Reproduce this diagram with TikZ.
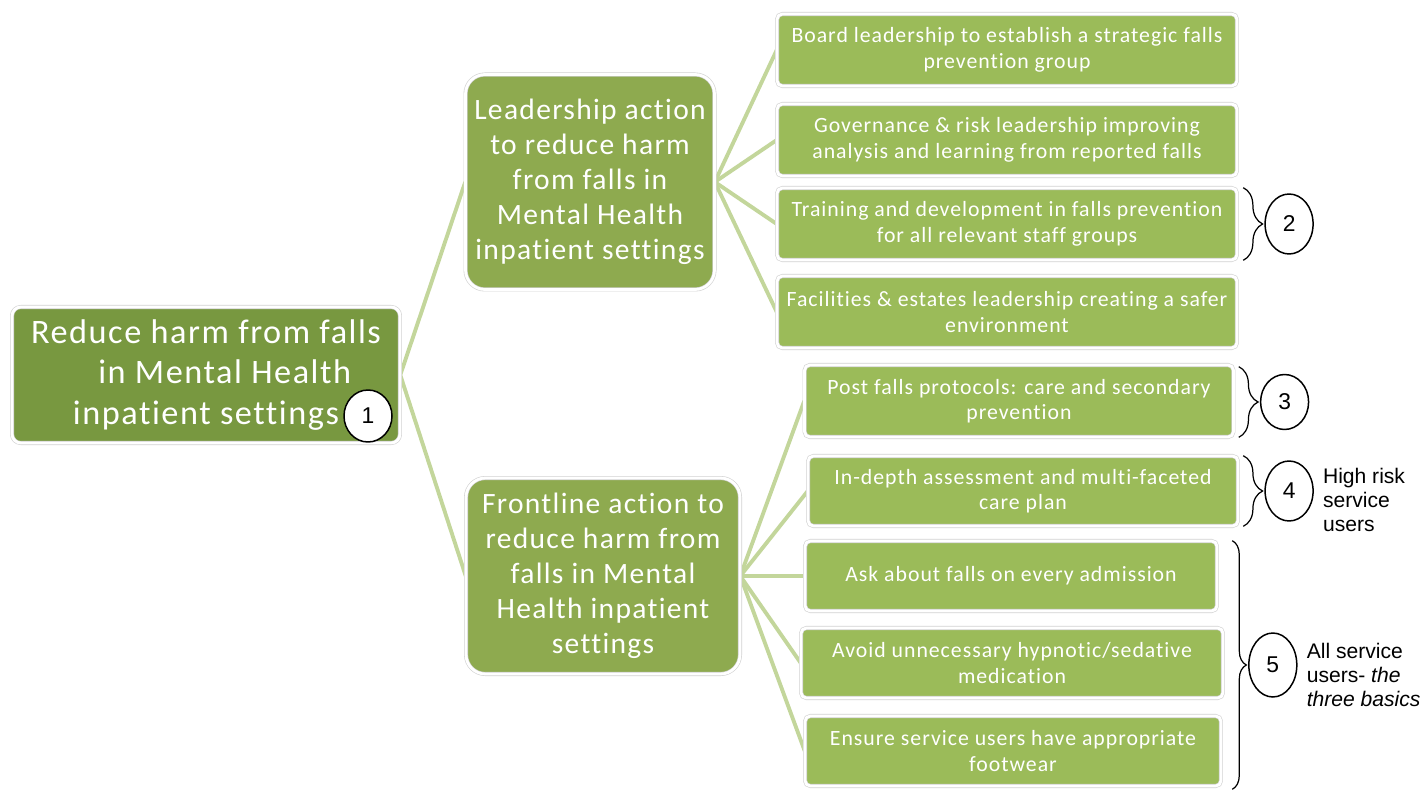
\documentclass[tikz,border=0pt]{standalone}
\usepackage{fontspec}
\setmainfont{Carlito}[LetterSpace=4.5, Ligatures=NoCommon]
\newfontfamily\arialfont{Liberation Sans}
\usetikzlibrary{positioning,shapes.geometric,decorations.pathreplacing,backgrounds}
\definecolor{rootgreen}{HTML}{789840}
\definecolor{midgreen}{HTML}{8EAA4F}
\definecolor{leafgreen}{HTML}{9BBB59}
\definecolor{linkgreen}{HTML}{C3D69B}
\tikzset{
  box/.style={draw=black!18, double=white, double distance=1.6pt, line width=.35pt,
    rounded corners=3pt, text=white, align=center, inner sep=0pt},
  rootbox/.style={box, fill=rootgreen, rounded corners=5pt, minimum width=7.76cm,
    minimum height=2.72cm, font=\fontsize{19.5}{23.3}\selectfont},
  midbox/.style={box, fill=midgreen, rounded corners=11pt, font=\fontsize{16.8}{19.9}\selectfont},
  leaf/.style={box, fill=leafgreen, minimum height=1.44cm, font=\fontsize{12.4}{14.5}\selectfont},
  link/.style={linkgreen, line width=2.2pt},
  tag/.style={ellipse, draw, fill=white, line width=.85pt, minimum width=.96cm,
    minimum height=1.2cm, inner sep=0pt, font=\arialfont\fontsize{13}{13}\selectfont},
  bracket/.style={decorate, decoration={brace, amplitude=11pt}, line width=.7pt},
  note/.style={font=\arialfont\fontsize{12}{13.6}\selectfont, align=left}
}
\begin{document}
\begin{tikzpicture}[x=0.02cm, y=-0.02cm]
\useasboundingbox (0,0) rectangle (1426,790);

\node[rootbox] (root) at (206,375) {Reduce harm from falls\\\hspace{.75cm}in Mental Health\\inpatient settings};
\node[tag, minimum height=1.04cm] (n1) at (368,416) {1};

\node[midbox, minimum width=4.98cm, minimum height=4.3cm] (lead) at (590,182)
  {Leadership action\\to reduce harm\\from falls in\\Mental Health\\inpatient settings};
\node[midbox, minimum width=5.48cm, minimum height=3.92cm] (front) at (603,576)
  {Frontline action to\\reduce harm from\\falls in Mental\\Health inpatient\\settings};

\foreach \n/\y/\t in {
    board/50/{Board leadership to establish a strategic falls\\prevention group},
    gov/140/{Governance \& risk leadership improving\\analysis and learning from reported falls},
    train/224/{Training and development in falls prevention\\for all relevant staff groups},
    fac/312/{Facilities \& estates leadership creating a safer\\environment}}
  \node[leaf, minimum width=9.2cm] (\n) at (1007,\y) {\t};

\node[leaf, minimum width=8.58cm] (post) at (1019,401) {Post falls protocols: care and secondary\\prevention};
\node[leaf, minimum width=8.6cm, minimum height=1.4cm] (assess) at (1023,491) {In-depth assessment and multi-faceted\\care plan};
\node[leaf, minimum width=8.24cm, minimum height=1.4cm] (ask) at (1011,576) {Ask about falls on every admission};
\node[leaf, minimum width=8.44cm, minimum height=1.4cm] (avoid) at (1012,663) {Avoid unnecessary hypnotic/sedative\\medication};
\node[leaf, minimum width=8.32cm, minimum height=1.4cm] (shoes) at (1013,751) {Ensure service users have appropriate\\footwear};

\begin{scope}[on background layer]
\draw[link] (root.east) -- (lead.west);
\draw[link] (root.east) -- (front.west);
\foreach \n in {board,gov,train,fac}
  \draw[link] (lead.east) -- (\n.west);
\foreach \n in {post,assess,ask,avoid,shoes}
  \draw[link] (front.east) -- (\n.west);
\end{scope}

\draw[bracket] ([xshift=.12cm]train.north east) -- ([xshift=.12cm]train.south east)
  node[tag, midway, right=12pt] (n2) {2};
\draw[bracket] ([xshift=.1cm, yshift=-.04cm]post.north east) -- ([xshift=.1cm]post.south east)
  node[tag, midway, right=12pt, minimum height=1.1cm] (n3) {3};
\draw[bracket] ([xshift=.1cm]assess.north east) -- ([xshift=.1cm]assess.south east)
  node[tag, midway, right=12pt] (n4) {4};
\draw[bracket, decoration={amplitude=8pt}] ([xshift=.18cm]ask.north -| avoid.east)
  -- ([xshift=.18cm, yshift=-.06cm]shoes.south -| avoid.east)
  node[tag, midway, right=9pt, minimum height=1.28cm] (n5) {5};

\node[note, right=.06cm of n4, yshift=-.18cm] (high) {High risk\\service\\users};
\node[note, right=.06cm of n5, yshift=-.2cm] (all) {All service\\users- \textit{the}\\\textit{three basics}};
\end{tikzpicture}
\end{document}
